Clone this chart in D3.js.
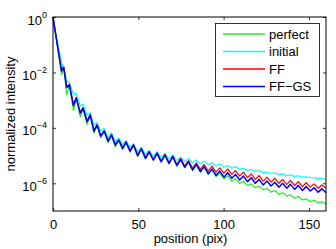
<!DOCTYPE html>
<html>
<head>
<meta charset="utf-8">
<script src="https://cdn.jsdelivr.net/npm/d3@7"></script>
<style>
  html, body { margin: 0; padding: 0; background: #fff; }
  svg { display: block; font-family: "Liberation Sans", Arial, sans-serif; }
  .axis path { display: none; }
  .axis line { stroke: #000; stroke-width: 0.8; }
  .axis text { font-size: 13px; fill: #000; }
</style>
</head>
<body>
<svg id="chart" width="336" height="249"></svg>
<script>
// ── Data (intensities stored as log10) ───────────────────────────────────────

const positions = [
  0, 2.5, 5, 6.3, 8, 9.6, 12, 13.6, 16, 17.6, 20, 21.8, 24, 25.8, 28, 30,
  32.3, 34.3, 36.5, 38.5, 40.8, 42.8, 45.2, 47.2, 49.6, 51.8, 54.2, 56.4,
  58.8, 61, 63.4, 65.6, 68, 70.2, 72.6, 74.8, 77.2, 79.4, 81.8, 84, 86.4,
  88.6, 91, 93.2, 95.6, 97.8, 100.2, 102.4, 104.8, 107, 109.4, 111.6, 114,
  116.2, 118.6, 120.8, 123.2, 125.4, 127.8, 130, 132.4, 134.6, 137, 139.2,
  141.6, 143.8, 146.2, 148.4, 150.8, 153, 155.4, 157.6, 160
];

const perfectLog = [
  0, -1.02, -2.08, -1.84, -2.8, -2.48, -3.38, -2.94, -3.6, -3.3, -3.88, -3.55,
  -4.2, -3.92, -4.36, -4.14, -4.54, -4.28, -4.68, -4.46, -4.78, -4.54, -4.88,
  -4.64, -5.04, -4.78, -5.12, -4.89, -5.18, -4.94, -5.24, -5.0, -5.3, -5.06,
  -5.38, -5.16, -5.44, -5.24, -5.54, -5.34, -5.6, -5.42, -5.68, -5.52, -5.76,
  -5.64, -5.84, -5.74, -5.92, -5.84, -6.0, -5.93, -6.08, -6.02, -6.16, -6.1,
  -6.24, -6.18, -6.32, -6.26, -6.4, -6.34, -6.46, -6.42, -6.54, -6.48, -6.6,
  -6.56, -6.66, -6.61, -6.7, -6.67, -6.74
];

const initialLog = [
  0, -0.85, -1.65, -1.85, -2.3, -2.35, -2.8, -2.75, -3.2, -3.15, -3.55, -3.45,
  -3.9, -3.8, -4.12, -4.02, -4.35, -4.18, -4.5, -4.36, -4.6, -4.46, -4.7,
  -4.58, -4.86, -4.7, -4.96, -4.82, -5.02, -4.86, -5.08, -4.92, -5.12, -4.98,
  -5.18, -5.06, -5.22, -5.1, -5.26, -5.16, -5.3, -5.2, -5.34, -5.26, -5.38,
  -5.3, -5.42, -5.36, -5.46, -5.4, -5.5, -5.46, -5.54, -5.5, -5.57, -5.54,
  -5.62, -5.6, -5.65, -5.63, -5.68, -5.66, -5.72, -5.7, -5.75, -5.73, -5.78,
  -5.77, -5.8, -5.8, -5.83, -5.83, -5.86
];

const ffLog = [
  0, -0.98, -1.92, -1.8, -2.52, -2.43, -3.16, -2.9, -3.44, -3.27, -3.75, -3.52,
  -4.1, -3.88, -4.28, -4.1, -4.46, -4.24, -4.6, -4.42, -4.72, -4.5, -4.82,
  -4.6, -4.98, -4.74, -5.07, -4.85, -5.14, -4.9, -5.2, -4.96, -5.26, -5.02,
  -5.32, -5.1, -5.38, -5.18, -5.46, -5.26, -5.5, -5.32, -5.56, -5.38, -5.6,
  -5.44, -5.64, -5.48, -5.68, -5.54, -5.74, -5.6, -5.8, -5.66, -5.86, -5.72,
  -5.92, -5.78, -5.96, -5.82, -6.0, -5.86, -6.04, -5.9, -6.08, -5.94, -6.12,
  -5.98, -6.14, -6.02, -6.18, -6.06, -6.18
];

const ffgsLog = [
  0, -1.0, -1.95, -1.82, -2.55, -2.45, -3.2, -2.92, -3.47, -3.29, -3.78, -3.54,
  -4.12, -3.9, -4.3, -4.12, -4.48, -4.26, -4.62, -4.44, -4.74, -4.52, -4.84,
  -4.62, -5.0, -4.76, -5.1, -4.87, -5.16, -4.92, -5.22, -4.98, -5.28, -5.04,
  -5.36, -5.14, -5.42, -5.22, -5.52, -5.32, -5.58, -5.4, -5.66, -5.48, -5.72,
  -5.56, -5.78, -5.62, -5.82, -5.68, -5.88, -5.74, -5.94, -5.8, -6.0, -5.86,
  -6.06, -5.92, -6.1, -5.96, -6.14, -6.0, -6.18, -6.04, -6.22, -6.08, -6.26,
  -6.12, -6.28, -6.16, -6.32, -6.2, -6.34
];

const seriesNames  = ['perfect', 'initial', 'FF', 'FF\u2212GS'];
const seriesColors = ['#22ee22', '#00ffff', '#ff0000', '#0000ff'];
const seriesWidths = [1.2, 1.2, 1.2, 1.5];
const xTicks = [0, 50, 100, 150];
const yTicks = [1, 1e-2, 1e-4, 1e-6];

// ── Layout ───────────────────────────────────────────────────────────────────

const M = { left: 53, top: 17, right: 326, bottom: 211 };

const svg = d3.select('#chart');

const x = d3.scaleLinear().domain([0, 160]).range([M.left, M.right]);
const y = d3.scaleLog().domain([1e-7, 1]).range([M.bottom, M.top]);

// ── Lines ────────────────────────────────────────────────────────────────────

const line = d3.line()
  .x((d, i) => x(positions[i]))
  .y(d => y(Math.pow(10, d)));

const allSeries = [perfectLog, initialLog, ffLog, ffgsLog];

svg.append('g')
  .selectAll('path')
  .data(allSeries)
  .enter().append('path')
    .attr('d', line)
    .attr('fill', 'none')
    .attr('stroke', (d, i) => seriesColors[i])
    .attr('stroke-width', (d, i) => seriesWidths[i])
    .attr('stroke-linejoin', 'round');

// ── Axes (MATLAB style: inward ticks on all four sides) ─────────────────────

svg.append('g')
  .attr('class', 'axis')
  .attr('transform', `translate(0,${M.bottom})`)
  .call(d3.axisBottom(x).tickValues(xTicks).tickSize(-3).tickPadding(9));

svg.append('g')
  .attr('class', 'axis')
  .attr('transform', `translate(0,${M.top})`)
  .call(d3.axisTop(x).tickValues(xTicks).tickSize(-3).tickFormat(''));

const yAxis = svg.append('g')
  .attr('class', 'axis')
  .attr('transform', `translate(${M.left},0)`)
  .call(d3.axisLeft(y).tickValues(yTicks).tickSize(-3).tickPadding(6));

// rewrite y tick labels as 10^n with a superscript
yAxis.selectAll('.tick text').each(function (d) {
  const t = d3.select(this);
  const exp = Math.round(Math.log10(d));
  t.text(null).attr('dy', 7);
  t.append('tspan').text('10');
  t.append('tspan')
    .attr('dy', -7)
    .attr('font-size', 9)
    .text(exp === 0 ? '0' : '\u2212' + Math.abs(exp));
});

svg.append('g')
  .attr('class', 'axis')
  .attr('transform', `translate(${M.right},0)`)
  .call(d3.axisRight(y).tickValues(yTicks).tickSize(-3).tickFormat(''));

svg.append('rect')
  .attr('x', M.left).attr('y', M.top)
  .attr('width', M.right - M.left).attr('height', M.bottom - M.top)
  .attr('fill', 'none').attr('stroke', '#000').attr('stroke-width', 1);

// ── Axis labels ─────────────────────────────────────────────────────────────

svg.append('text')
  .attr('x', (M.left + M.right) / 2 + 1).attr('y', 243)
  .attr('text-anchor', 'middle').attr('font-size', 13)
  .text('position (pix)');

svg.append('text')
  .attr('transform', `translate(15,${(M.top + M.bottom) / 2}) rotate(-90)`)
  .attr('text-anchor', 'middle').attr('font-size', 13)
  .text('normalized intensity');

// ── Legend ──────────────────────────────────────────────────────────────────

const legend = svg.append('g');
legend.append('rect')
  .attr('x', 215.5).attr('y', 23.5).attr('width', 104).attr('height', 73)
  .attr('fill', '#fff').attr('stroke', '#000').attr('stroke-width', 0.8);

const rows = legend.selectAll('g.row')
  .data(seriesNames)
  .enter().append('g')
    .attr('class', 'row')
    .attr('transform', (d, i) => `translate(0,${34 + i * 17.5})`);

rows.append('line')
  .attr('x1', 223).attr('x2', 265)
  .attr('stroke', (d, i) => seriesColors[i])
  .attr('stroke-width', 1.3);

rows.append('text')
  .attr('x', 269).attr('y', 4.5)
  .attr('font-size', 13)
  .text(d => d);
</script>
</body>
</html>
